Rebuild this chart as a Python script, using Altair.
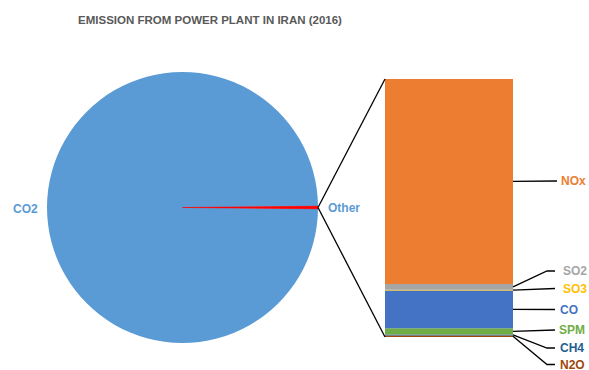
import altair as alt
import pandas as pd
import math

# ---- data (percent of total emission) ----
pie_labels = ["Other", "CO2"]
pie_values = [0.3, 99.7]
pie_colors = ["#FF0000", "#5B9BD5"]

bar_labels = ["N2O", "CH4", "SPM", "CO", "SO3", "SO2", "NOx"]   # bottom -> top
bar_values = [0.6, 0.4, 2.4, 14.6, 0.3, 2.2, 79.2]
bar_colors = ["#9E480E", "#255E91", "#70AD47", "#4472C4", "#FFC000", "#A5A5A5", "#ED7D31"]

title_text = "EMISSION FROM POWER PLANT IN IRAN (2016)"

# ---- layout (pixels) ----
W, H = 589, 370
CX, CY, R = 182.5, 207.5, 135.5
BAR_X0, BAR_X1 = 385, 513
BAR_BOTTOM, BAR_TOP = 337, 79
FONT = "Liberation Sans"

total = sum(bar_values)

def ypx(v):
    return BAR_BOTTOM - v / total * (BAR_BOTTOM - BAR_TOP)

# pie
delta = 2 * math.pi * pie_values[0] / sum(pie_values)
start = math.pi / 2 - delta / 2
pie_df = pd.DataFrame({"label": pie_labels, "value": pie_values, "ord": [0, 1]})
pie_base = alt.Chart(pie_df).encode(
    theta=alt.Theta("value:Q", stack=True,
                    scale=alt.Scale(range=[start, start + 2 * math.pi])),
    color=alt.Color("label:N", scale=alt.Scale(domain=pie_labels, range=pie_colors), legend=None),
    order=alt.Order("ord:Q"),
    x=alt.value(CX), y=alt.value(CY),
)
pie = pie_base.mark_arc(outerRadius=R, strokeWidth=0)
# redraw the thin "Other" slice on top so its edges are not covered by CO2
pie_top = pie_base.mark_arc(outerRadius=R, stroke="#FF0000").encode(
    opacity=alt.condition("datum.label == 'Other'", alt.value(1), alt.value(0)),
    strokeWidth=alt.condition("datum.label == 'Other'", alt.value(0.6), alt.value(0)),
)

# stacked bar
bar_df = pd.DataFrame({"label": bar_labels, "value": bar_values, "ord": list(range(len(bar_labels)))})
bar = alt.Chart(bar_df).mark_bar(size=BAR_X1 - BAR_X0).encode(
    x=alt.value((BAR_X0 + BAR_X1) / 2),
    y=alt.Y("value:Q", stack=True, axis=None,
            scale=alt.Scale(domain=[0, total], range=[BAR_BOTTOM, BAR_TOP])),
    color=alt.Color("label:N", scale=alt.Scale(domain=bar_labels, range=bar_colors), legend=None),
    order=alt.Order("ord:Q"),
)

# connectors pie -> bar
ex, ey = CX + R, CY
conn_df = pd.DataFrame({
    "x": [ex, ex], "y": [ey, ey],
    "x2": [BAR_X0, BAR_X0], "y2": [BAR_TOP, BAR_BOTTOM],
})
conn = alt.Chart(conn_df).mark_rule(color="#000000", strokeWidth=1.3).encode(
    x=alt.X("x:Q", scale=None), y=alt.Y("y:Q", scale=None),
    x2="x2:Q", y2="y2:Q",
)

# bar labels with leader lines
label_pos = {  # label x, label y, elbow x (None = straight), line end x
    "NOx": (561, 181, None, 557),
    "SO2": (563, 271, 547, 555),
    "SO3": (563, 288.5, None, 555),
    "CO": (560, 309.5, None, 555),
    "SPM": (559, 330, None, 555),
    "CH4": (560, 348, 547, 555),
    "N2O": (560, 364.5, 547, 555),
}
cum = 0
lines = []
texts = []
for lab, val, col in zip(bar_labels, bar_values, bar_colors):
    mid = cum + val / 2
    cum += val
    lx, ly, elbow, lend = label_pos[lab]
    sy = ypx(mid)
    pts = [(BAR_X1, sy)]
    if elbow is not None:
        pts.append((elbow, ly))
    pts.append((lend, ly))
    for i, (px, py) in enumerate(pts):
        lines.append({"label": lab, "i": i, "x": px, "y": py})
    texts.append({"label": lab, "x": lx, "y": ly, "c": col})

texts.append({"label": "CO2", "x": 13, "y": 208.5, "c": "#5B9BD5"})
texts.append({"label": "Other", "x": 328, "y": 208, "c": "#5B9BD5"})

lines_df = pd.DataFrame(lines)
leaders = alt.Chart(lines_df).mark_line(color="#000000", strokeWidth=1.3).encode(
    x=alt.X("x:Q", scale=None), y=alt.Y("y:Q", scale=None),
    detail="label:N", order="i:Q",
)

text_df = pd.DataFrame(texts)
labels = alt.Chart(text_df).mark_text(align="left", baseline="middle", font=FONT,
                                      fontSize=12, fontWeight="bold").encode(
    x=alt.X("x:Q", scale=None), y=alt.Y("y:Q", scale=None),
    text="label:N", color=alt.Color("c:N", scale=None),
)

title = alt.Chart(pd.DataFrame({"t": [title_text]})).mark_text(
    align="center", baseline="middle", font=FONT, fontSize=11.5, fontWeight="bold",
    color="#595959",
).encode(x=alt.value(210), y=alt.value(21), text="t:N")

chart = alt.layer(pie, pie_top, bar, conn, leaders, labels, title).resolve_scale(
    color="independent", y="independent"
).properties(
    width=W, height=H, autosize=alt.AutoSizeParams(type="none"), padding=0,
    background="#FFFFFF",
).configure_view(stroke=None)

chart.save("out.html", embed_options={"renderer": "svg", "actions": False})
